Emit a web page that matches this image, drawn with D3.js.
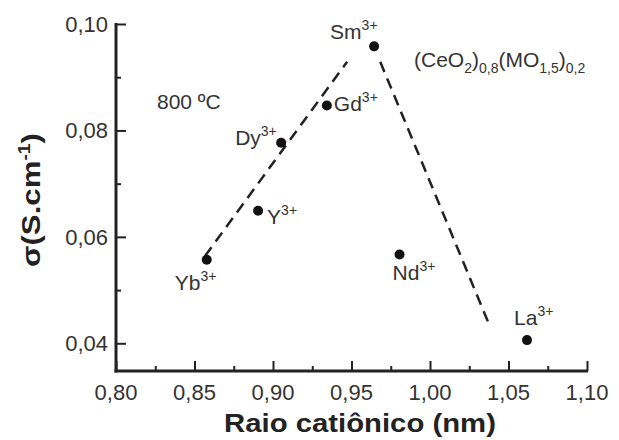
<!DOCTYPE html>
<html>
<head>
<meta charset="utf-8">
<script src="https://cdn.jsdelivr.net/npm/d3@7"></script>
<style>
  body { margin: 0; background: #fff; }
  svg { display: block; font-family: "Liberation Sans", Arial, sans-serif; }
</style>
</head>
<body>
<svg id="chart" width="619" height="440"></svg>
<script>
// data
const ions = ['Yb', 'Y', 'Dy', 'Gd', 'Sm', 'Nd', 'La'];
const radius = [0.8578, 0.8905, 0.9052, 0.9343, 0.9644, 0.9806, 1.0618];
const sigma = [0.0557, 0.0649, 0.0777, 0.0847, 0.0958, 0.0567, 0.0406];
// label offsets (px) relative to each point
const labelDx = [-32, 9, -46, 7, -44, -7, -13];
const labelDy = [30, 13, 2, 6, -7, 26, -15];

// dashed trend lines
const trendLeft = [[0.8567, 0.0564], [0.9472, 0.0929]];
const trendRight = [[0.9683, 0.0929], [1.0373, 0.0438]];

const xTicks = [0.80, 0.85, 0.90, 0.95, 1.00, 1.05, 1.10];
const xMinor = [0.825, 0.875, 0.925, 0.975, 1.025, 1.075];
const yTicks = [0.04, 0.06, 0.08, 0.10];
const yMinor = [0.05, 0.07, 0.09];

const svg = d3.select('#chart');
const ink = '#222';
const txt = '#333';

const x = d3.scaleLinear().domain([0.80, 1.10]).range([116, 587]);
const y = d3.scaleLinear().domain([0.04, 0.10]).range([343.3, 24]);
const yBottom = 371;
const yTop = y(0.10);

const fmt = d => d3.format('.2f')(d).replace('.', ',');

// stretch a text (anchored middle at its origin) to a target width
function fitWidth(sel, target) {
  const w = sel.node().getBBox().width;
  sel.attr('transform', `scale(${target / w},1)`);
}

// x axis (ticks pointing inward)
const xAxis = svg.append('g').attr('transform', `translate(0,${yBottom})`);
xAxis.call(d3.axisTop(x).tickValues(xTicks).tickSize(10).tickFormat(''));
xAxis.append('g').call(d3.axisTop(x).tickValues(xMinor).tickSize(5).tickFormat(''));
xAxis.selectAll('.domain').remove();
xAxis.selectAll('line').attr('stroke', ink).attr('stroke-width', 2);
xAxis.append('line')
  .attr('x1', x(0.80) - 1.5).attr('x2', x(1.10) + 1)
  .attr('stroke', ink).attr('stroke-width', 3);
xAxis.selectAll('.lbl').data(xTicks).enter().append('text')
  .attr('class', 'lbl')
  .attr('x', d => x(d)).attr('y', 29)
  .attr('text-anchor', 'middle')
  .attr('font-size', 22).attr('fill', txt)
  .text(fmt);

// y axis
const yAxis = svg.append('g').attr('transform', `translate(${x(0.80)},0)`);
yAxis.call(d3.axisRight(y).tickValues(yTicks).tickSize(10).tickFormat(''));
yAxis.append('g').call(d3.axisRight(y).tickValues(yMinor).tickSize(5).tickFormat(''));
yAxis.selectAll('.domain').remove();
yAxis.selectAll('line').attr('stroke', ink).attr('stroke-width', 2);
yAxis.append('line')
  .attr('y1', yTop - 1).attr('y2', yBottom + 1.5)
  .attr('stroke', ink).attr('stroke-width', 3);
yAxis.selectAll('.lbl').data(yTicks).enter().append('text')
  .attr('class', 'lbl')
  .attr('x', -8).attr('y', d => y(d))
  .attr('dy', '0.35em')
  .attr('text-anchor', 'end')
  .attr('font-size', 22).attr('fill', txt)
  .text(fmt);

// axis titles
const xTitle = svg.append('g').attr('transform', 'translate(360,432)')
  .append('text')
  .attr('text-anchor', 'middle')
  .attr('font-size', 26).attr('font-weight', 'bold').attr('fill', ink)
  .text('Raio catiônico (nm)');
fitWidth(xTitle, 272);

const yTitle = svg.append('g').attr('transform', 'translate(40,200) rotate(-90)')
  .append('text')
  .attr('text-anchor', 'middle')
  .attr('font-size', 26).attr('font-weight', 'bold').attr('fill', ink);
yTitle.append('tspan').text('σ(S.cm');
yTitle.append('tspan').attr('dy', -10).attr('font-size', 16).text('-1');
yTitle.append('tspan').attr('dy', 10).text(')');
fitWidth(yTitle, 134);

// dashed trend lines
const line = d3.line().x(d => x(d[0])).y(d => y(d[1]));
[trendLeft, trendRight].forEach(seg => {
  svg.append('path')
    .attr('d', line(seg))
    .attr('fill', 'none')
    .attr('stroke', ink)
    .attr('stroke-width', 2.5)
    .attr('stroke-dasharray', '11,7');
});

// points
const pts = ions.map((ion, i) => ({ ion, r: radius[i], s: sigma[i], dx: labelDx[i], dy: labelDy[i] }));

svg.selectAll('.pt').data(pts).enter().append('circle')
  .attr('class', 'pt')
  .attr('cx', d => x(d.r)).attr('cy', d => y(d.s))
  .attr('r', 5).attr('fill', '#111');

const lbls = svg.selectAll('.ion').data(pts).enter().append('text')
  .attr('class', 'ion')
  .attr('x', d => x(d.r) + d.dx).attr('y', d => y(d.s) + d.dy)
  .attr('font-size', 21).attr('fill', txt);
lbls.append('tspan').text(d => d.ion);
lbls.append('tspan').attr('dy', -9).attr('font-size', 14).text('3+');

// annotations
svg.append('text')
  .attr('x', 157).attr('y', 109)
  .attr('font-size', 21).attr('fill', txt)
  .text('800 ºC');

const formula = svg.append('text')
  .attr('x', 414).attr('y', 67)
  .attr('font-size', 21).attr('fill', txt);
const parts = [['(CeO', 0], ['2', 1], [')', 0], ['0,8', 1], ['(MO', 0], ['1,5', 1], [')', 0], ['0,2', 1]];
let prev = 0;
parts.forEach(([t, sub]) => {
  formula.append('tspan')
    .attr('dy', (sub - prev) * 6)
    .attr('font-size', sub ? 14 : 21)
    .text(t);
  prev = sub;
});
</script>
</body>
</html>
